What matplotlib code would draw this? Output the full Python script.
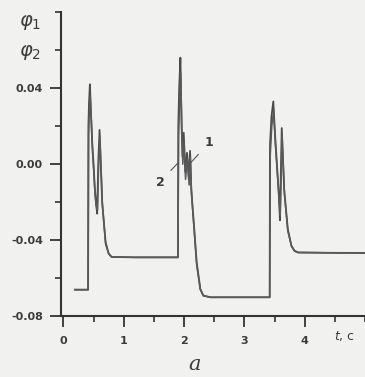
import matplotlib
matplotlib.use("Agg")
import matplotlib.pyplot as plt
from matplotlib.ticker import MultipleLocator

# curve 1 (time in s, phi)
t1 = [0.19, 0.41, 0.415, 0.425, 0.44, 0.46, 0.48, 0.50, 0.52, 0.54, 0.56, 0.58, 0.60,
      0.643, 0.70, 0.75, 0.80, 1.20, 1.60, 1.90,
      1.905, 1.92, 1.94, 1.96, 1.975, 1.995, 2.02, 2.05, 2.08, 2.10, 2.12, 2.21, 2.27, 2.32, 2.44,
      3.00, 3.42, 3.425, 3.45, 3.48, 3.51, 3.54, 3.57, 3.59, 3.62, 3.66, 3.72, 3.78, 3.83, 3.89,
      4.40, 5.00]
phi1 = [-0.066, -0.066, 0.020, 0.032, 0.042, 0.025, 0.010, 0.000, -0.012, -0.020, -0.026, 0.002, 0.018,
        -0.020, -0.041, -0.047, -0.0488, -0.049, -0.049, -0.049,
        0.020, 0.040, 0.056, 0.020, 0.004, 0.0165, -0.004, 0.006, -0.008, 0.007, -0.013, -0.0516, -0.0656, -0.0691, -0.070,
        -0.070, -0.070, 0.010, 0.025, 0.033, 0.015, 0.000, -0.015, -0.0295, 0.019, -0.0131, -0.0341, -0.0429, -0.0455, -0.0464,
        -0.0466, -0.0467]

# curve 2, close to curve 1
t2 = [0.19, 0.41, 0.418, 0.43, 0.445, 0.465, 0.485, 0.505, 0.525, 0.545, 0.565, 0.585, 0.605,
      0.648, 0.70, 0.75, 0.80, 1.20, 1.60, 1.90,
      1.91, 1.925, 1.945, 1.965, 1.98, 2.00, 2.025, 2.055, 2.085, 2.105, 2.125, 2.21, 2.27, 2.32, 2.44,
      3.00, 3.42, 3.43, 3.455, 3.485, 3.515, 3.545, 3.575, 3.595, 3.625, 3.665, 3.72, 3.78, 3.83, 3.89,
      4.40, 5.00]
phi2 = [-0.066, -0.066, 0.015, 0.028, 0.036, 0.022, 0.006, -0.004, -0.016, -0.022, -0.024, 0.000, 0.014,
        -0.022, -0.042, -0.047, -0.0488, -0.049, -0.049, -0.049,
        0.015, 0.030, 0.048, 0.016, 0.000, 0.012, -0.008, 0.003, -0.011, 0.004, -0.016, -0.053, -0.066, -0.0692, -0.070,
        -0.070, -0.070, 0.005, 0.020, 0.028, 0.010, -0.004, -0.018, -0.027, 0.015, -0.016, -0.035, -0.043, -0.0456, -0.0465,
        -0.0466, -0.0467]

xticks = [0, 1, 2, 3, 4]
yticks = [-0.08, -0.04, 0.00, 0.04]
ytick_labels = ["-0.08", "-0.04", "0.00", "0.04"]

ink = "#3c3c3c"
bg = "#f1f1ef"

fig = plt.figure(figsize=(3.65, 3.77), dpi=100, facecolor=bg)
ax = fig.add_axes([0.167, 0.161, 0.833, 0.807])
ax.set_facecolor(bg)

ax.plot(t1, phi1, color="#4a4a4a", lw=1.3)
ax.plot(t2, phi2, color="#5a5a5a", lw=1.1)

ax.set_xlim(-0.04, 5.0)
ax.set_ylim(-0.08, 0.08)

for s in ["top", "right"]:
    ax.spines[s].set_visible(False)
for s in ["left", "bottom"]:
    ax.spines[s].set_linewidth(1.5)
    ax.spines[s].set_color("#333333")

ax.set_xticks(xticks)
ax.set_xticklabels([str(v) for v in xticks])
ax.set_yticks(yticks)
ax.set_yticklabels(ytick_labels)
ax.xaxis.set_minor_locator(MultipleLocator(0.5))
ax.yaxis.set_minor_locator(MultipleLocator(0.02))
ax.tick_params(which="major", length=8, width=1.3, color="#333333", direction="out",
               labelsize=8, labelcolor=ink)
ax.tick_params(axis="x", which="major", pad=6)
ax.tick_params(axis="y", which="major", pad=5)
ax.tick_params(which="minor", length=4, width=1.2, color="#333333", direction="out")
for lab in ax.get_xticklabels() + ax.get_yticklabels():
    lab.set_fontweight("bold")

# curve labels with leader lines
ax.annotate("1", xy=(2.06, -0.001), xytext=(2.42, 0.0115), fontsize=9, color=ink,
            fontweight="bold", ha="center", va="center",
            arrowprops=dict(arrowstyle="-", color="#555555", lw=0.8, shrinkA=4, shrinkB=0))
ax.annotate("2", xy=(1.91, 0.001), xytext=(1.60, -0.0094), fontsize=9, color=ink,
            fontweight="bold", ha="center", va="center",
            arrowprops=dict(arrowstyle="-", color="#555555", lw=0.8, shrinkA=4, shrinkB=0))

fig.text(30 / 365, 1 - 23 / 377, r"$\varphi_1$", fontsize=14, color=ink, ha="center", va="center")
fig.text(30 / 365, 1 - 52 / 377, r"$\varphi_2$", fontsize=14, color=ink, ha="center", va="center")
fig.text(345 / 365, 1 - 336 / 377, r"$t$, c", fontsize=9, color=ink, ha="center", va="center")
fig.text(195 / 365, 1 - 365 / 377, "a", fontsize=15, color=ink, ha="center", va="center",
         family="DejaVu Serif", style="italic")

fig.savefig("out.png", dpi=100, facecolor=bg)
